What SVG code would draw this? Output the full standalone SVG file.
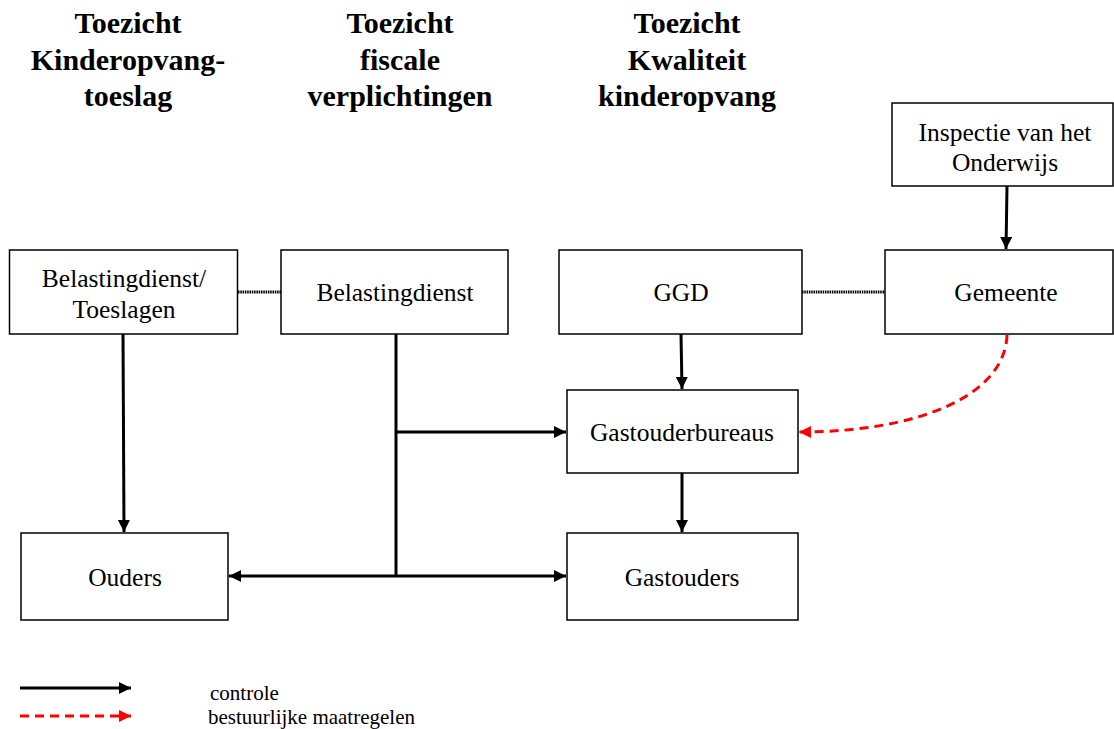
<svg xmlns="http://www.w3.org/2000/svg" width="1114" height="729" viewBox="0 0 1114 729">
<style>
.box{fill:#fff;stroke:#000;stroke-width:1.5}
.t{font-family:"Liberation Serif","Times New Roman",serif;font-size:25.5px;fill:#000;text-anchor:middle}
.h{font-family:"Liberation Serif","Times New Roman",serif;font-size:30px;font-weight:bold;fill:#000;text-anchor:middle}
.l{font-family:"Liberation Serif","Times New Roman",serif;font-size:21px;fill:#000}
.c{fill:none;stroke:#000;stroke-width:3}
.r{fill:none;stroke:#f00;stroke-width:3;stroke-dasharray:9 6}
.d{fill:none;stroke:#000;stroke-width:3;stroke-dasharray:1.5 0.8}
</style>
<defs>
<marker id="ab" markerUnits="userSpaceOnUse" markerWidth="14" markerHeight="14" refX="12" refY="6" orient="auto"><path d="M0,0 L12,6 L0,12 Z" fill="#000"/></marker>
<marker id="ar" markerUnits="userSpaceOnUse" markerWidth="14" markerHeight="14" refX="12" refY="6" orient="auto"><path d="M0,0 L12,6 L0,12 Z" fill="#f00"/></marker>
</defs>
<rect width="1114" height="729" fill="#fff"/>
<g id="titles">
<text class="h" x="128" y="33">Toezicht</text>
<text class="h" x="128" y="70">Kinderopvang-</text>
<text class="h" x="128" y="106">toeslag</text>
<text class="h" x="400" y="33">Toezicht</text>
<text class="h" x="400" y="70">fiscale</text>
<text class="h" x="400" y="106">verplichtingen</text>
<text class="h" x="687" y="33">Toezicht</text>
<text class="h" x="687" y="70">Kwaliteit</text>
<text class="h" x="687" y="106">kinderopvang</text>
</g>
<g id="connectors">
<line class="d" x1="238" y1="292" x2="281" y2="292"/>
<line class="d" x1="802" y1="292" x2="885" y2="292"/>
<line class="c" x1="1007" y1="186" x2="1006" y2="249" marker-end="url(#ab)"/>
<line class="c" x1="123" y1="334" x2="124" y2="532" marker-end="url(#ab)"/>
<line class="c" x1="396" y1="334" x2="396" y2="577"/>
<line class="c" x1="396" y1="432" x2="566" y2="432" marker-end="url(#ab)"/>
<line class="c" x1="396" y1="576" x2="229" y2="576" marker-end="url(#ab)"/>
<line class="c" x1="396" y1="576" x2="566" y2="576" marker-end="url(#ab)"/>
<line class="c" x1="681" y1="334" x2="682" y2="389" marker-end="url(#ab)"/>
<line class="c" x1="682" y1="473" x2="682" y2="532" marker-end="url(#ab)"/>
<path class="r" d="M1007,335 C1005,395 920,432 799,432" marker-end="url(#ar)"/>
</g>
<g id="insp"><rect class="box" x="892" y="103" width="221" height="83"/><text class="t" x="1005" y="141">Inspectie van het</text><text class="t" x="1005" y="171">Onderwijs</text></g>
<g id="bdt"><rect class="box" x="9.5" y="250" width="228" height="84"/><text class="t" x="124" y="287">Belastingdienst/</text><text class="t" x="124" y="318">Toeslagen</text></g>
<g id="bd"><rect class="box" x="281" y="250" width="227" height="84"/><text class="t" x="395" y="301">Belastingdienst</text></g>
<g id="ggd"><rect class="box" x="559" y="250" width="243" height="84"/><text class="t" x="681" y="301">GGD</text></g>
<g id="gem"><rect class="box" x="885" y="250" width="228" height="84"/><text class="t" x="1006" y="301">Gemeente</text></g>
<g id="gob"><rect class="box" x="567" y="390" width="231" height="83"/><text class="t" x="682" y="441">Gastouderbureaus</text></g>
<g id="ouders"><rect class="box" x="21" y="533" width="207" height="87"/><text class="t" x="125" y="586">Ouders</text></g>
<g id="go"><rect class="box" x="567" y="533" width="231" height="87"/><text class="t" x="682" y="586">Gastouders</text></g>
<g id="legend">
<line class="c" x1="20" y1="688" x2="131" y2="688" marker-end="url(#ab)"/>
<line class="r" x1="20" y1="716" x2="131" y2="716" marker-end="url(#ar)"/>
<text class="l" x="210" y="700">controle</text>
<text class="l" x="208" y="724">bestuurlijke maatregelen</text>
</g>
</svg>
